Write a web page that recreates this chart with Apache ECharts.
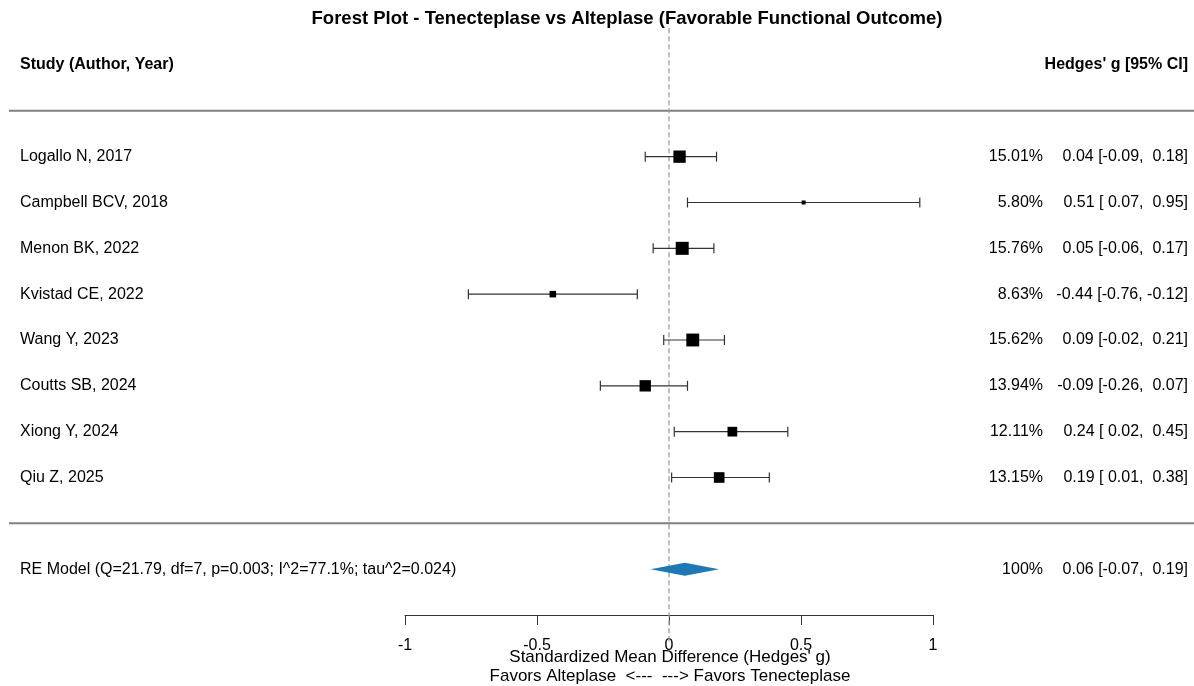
<!DOCTYPE html>
<html><head><meta charset="utf-8">
<script src="https://cdn.jsdelivr.net/npm/echarts@6/dist/echarts.min.js"></script>
<style>html,body{margin:0;padding:0;background:#fff}#c{width:1194px;height:686px}</style>
</head><body><div id="c"></div>
<script>
// ---- data ----
const studies = ['Logallo N, 2017', 'Campbell BCV, 2018', 'Menon BK, 2022', 'Kvistad CE, 2022', 'Wang Y, 2023', 'Coutts SB, 2024', 'Xiong Y, 2024', 'Qiu Z, 2025'];
const estimates = [0.04, 0.51, 0.05, -0.44, 0.09, -0.09, 0.24, 0.19];
const lowerCI = [-0.09, 0.07, -0.06, -0.76, -0.02, -0.26, 0.02, 0.01];
const upperCI = [0.18, 0.95, 0.17, -0.12, 0.21, 0.07, 0.45, 0.38];
const weights = [15.01, 5.80, 15.76, 8.63, 15.62, 13.94, 12.11, 13.15];
const pooledEst = 0.06, pooledLower = -0.07, pooledUpper = 0.19;
const pooledLabel = 'RE Model (Q=21.79, df=7, p=0.003; I^2=77.1%; tau^2=0.024)';
const xTicks = [-1, -0.5, 0, 0.5, 1];
const titleText = 'Forest Plot - Tenecteplase vs Alteplase (Favorable Functional Outcome)';
const leftHeader = 'Study (Author, Year)';
const rightHeader = "Hedges' g [95% CI]";
const axisTitle = "Standardized Mean Difference (Hedges' g)";
const axisSubtitle = 'Favors Alteplase  <---  ---> Favors Tenecteplase';

// ---- helpers ----
const FONT = '"Liberation Sans", Arial, Helvetica, sans-serif';
const n = studies.length;
const minW = Math.min(...weights), maxW = Math.max(...weights);
function sq(w) { return 4 + (w - minW) / (maxW - minW) * 9; }
function fmt(v) { return (v < 0 ? '' : ' ') + v.toFixed(2); }
function ciText(e, l, h) { return e.toFixed(2) + ' [' + fmt(l) + ', ' + fmt(h) + ']'; }
function txt(x, y, text, align, bold, size) {
  return { type: 'text', x: x, y: y, style: {
    text: text, font: (bold ? 'bold ' : '') + (size || 16) + 'px ' + FONT, fill: '#000',
    align: align, textAlign: align, verticalAlign: 'middle', textVerticalAlign: 'middle' } };
}

const rows = studies.map((s, i) => [estimates[i], lowerCI[i], upperCI[i], i + 1, weights[i], i]);
const X_LABEL = 20, X_WEIGHT = 1043, X_CI = 1188;

const chart = echarts.init(document.getElementById('c'));
chart.setOption({
  animation: false,
  backgroundColor: '#fff',
  grid: { left: 405, right: 261, top: 10, bottom: 71 },
  xAxis: {
    type: 'value', min: xTicks[0], max: xTicks[xTicks.length - 1], interval: 0.5,
    splitLine: { show: false },
    axisLine: { onZero: false, lineStyle: { color: '#333', width: 1 } },
    axisTick: { length: 10, lineStyle: { color: '#333' } },
    axisLabel: { margin: 23, color: '#000', fontSize: 16, fontFamily: FONT,
      formatter: v => String(v) }
  },
  yAxis: { type: 'value', inverse: true, min: -2.2, max: n + 3, show: false },
  graphic: [
    txt(627, 19, titleText, 'center', true, 18.5),
    txt(670, 657, axisTitle, 'center', false, 17),
    txt(670, 676, axisSubtitle, 'center', false, 17)
  ],
  series: [
    {
      type: 'custom', clip: false, z: 1,
      data: [[0]],
      renderItem: function (params, api) {
        const y0 = api.coord([0, 0])[1], y1 = api.coord([0, 1])[1];
        const rowPx = r => y0 + (y1 - y0) * r;
        const x0 = api.coord([0, 0])[0];
        const xl = api.coord([pooledLower, 0])[0];
        const xh = api.coord([pooledUpper, 0])[0];
        const xe = api.coord([pooledEst, 0])[0];
        const yr = rowPx(n + 2);
        const sep = { stroke: '#808080', lineWidth: 2 };
        return { type: 'group', children: [
          { type: 'line', shape: { x1: 9, y1: rowPx(0), x2: 1194, y2: rowPx(0) }, style: sep },
          { type: 'line', shape: { x1: 9, y1: rowPx(n + 1), x2: 1194, y2: rowPx(n + 1) }, style: sep },
          { type: 'line', shape: { x1: x0, y1: rowPx(-1.8), x2: x0, y2: rowPx(n + 3.62) },
            style: { stroke: '#9a9a9a', lineWidth: 1.3, lineDash: [5, 3] } },
          { type: 'polygon', shape: { points: [[xl, yr], [xe, yr - 6.5], [xh, yr], [xe, yr + 6.5]] },
            style: { fill: '#1f77b4' } },
          txt(X_LABEL, rowPx(-1), leftHeader, 'left', true),
          txt(X_CI, rowPx(-1), rightHeader, 'right', true),
          txt(X_LABEL, yr, pooledLabel, 'left'),
          txt(X_WEIGHT, yr, '100%', 'right'),
          txt(X_CI, yr, ciText(pooledEst, pooledLower, pooledUpper), 'right')
        ] };
      }
    },
    {
      type: 'custom', clip: false, z: 2,
      data: rows,
      renderItem: function (params, api) {
        const i = api.value(5);
        const y = api.coord([0, api.value(3)])[1];
        const xl = api.coord([api.value(1), 0])[0];
        const xh = api.coord([api.value(2), 0])[0];
        const xe = api.coord([api.value(0), 0])[0];
        const s = sq(api.value(4));
        const st = { stroke: '#333', lineWidth: 1.2 };
        return { type: 'group', children: [
          { type: 'line', shape: { x1: xl, y1: y, x2: xh, y2: y }, style: st },
          { type: 'line', shape: { x1: xl, y1: y - 5, x2: xl, y2: y + 5 }, style: st },
          { type: 'line', shape: { x1: xh, y1: y - 5, x2: xh, y2: y + 5 }, style: st },
          { type: 'rect', shape: { x: xe - s / 2, y: y - s / 2, width: s, height: s }, style: { fill: '#000' } },
          txt(X_LABEL, y, studies[i], 'left'),
          txt(X_WEIGHT, y, weights[i].toFixed(2) + '%', 'right'),
          txt(X_CI, y, ciText(estimates[i], lowerCI[i], upperCI[i]), 'right')
        ] };
      }
    }
  ]
});
</script></body></html>
